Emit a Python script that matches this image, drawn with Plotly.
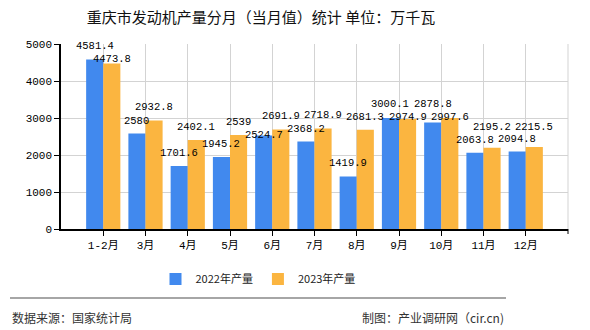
import plotly.graph_objects as go

categories = ["1-2月", "3月", "4月", "5月", "6月", "7月", "8月", "9月", "10月", "11月", "12月"]
values_2022 = [4581.4, 2580, 1701.6, 1945.2, 2524.7, 2368.2, 1419.9, 3000.1, 2878.8, 2063.8, 2094.8]
values_2023 = [4473.8, 2932.8, 2402.1, 2539, 2691.9, 2718.9, 2681.3, 2974.9, 2997.6, 2195.2, 2215.5]
series_names = ["2022年产量", "2023年产量"]
y_ticks = [0, 1000, 2000, 3000, 4000, 5000]

title_text = "重庆市发动机产量分月（当月值）统计 单位：万千瓦"
source_text = "数据来源：国家统计局"
maker_text = "制图：产业调研网（cir.cn)"

BLUE = "#4189EE"
ORANGE = "#FBB540"
MONO = "Liberation Mono, Noto Sans CJK SC, monospace"
CJK = "Noto Sans CJK SC, sans-serif"

W, H = 590, 330
ML, MR, MT, MB = 61, 22, 44, 101
PW, PH = W - ML - MR, H - MT - MB
XR = (-1, 11)
YMAX = 5000
BARGAP = 0.19
LABEL_SIZE = 10.5

series = [(series_names[0], values_2022, BLUE), (series_names[1], values_2023, ORANGE)]

fig = go.Figure()
for name, vals, col in series:
    fig.add_trace(go.Bar(x=categories, y=vals, name=name,
                         marker=dict(color=col, line=dict(width=0))))

# value labels on top of everything, with a simple overlap avoidance (vertical shift)
cat_px = PW / (XR[1] - XR[0])
bar_px = cat_px * (1 - BARGAP) / 2
placed = []
labels = []
for i, cat in enumerate(categories):
    for k, (name, vals, col) in enumerate(series):
        v = vals[i]
        txt = f"{v:g}"
        cx = ML + (i - XR[0]) * cat_px + (k - 0.5) * bar_px
        top = MT + (YMAX - v) / YMAX * PH
        w = len(txt) * LABEL_SIZE * 0.6
        h = 12
        x0, x1 = cx - w / 2, cx + w / 2
        y1 = top - 5
        def free(shift):
            a0, a1 = y1 - h + shift, y1 + shift
            for (b0x, b1x, b0y, b1y) in placed:
                if x0 < b1x and x1 > b0x and a0 < b1y and a1 > b0y:
                    return False
            return True
        shift = 0
        for d in range(0, 80):
            if free(d):
                shift = d
                break
            if free(-d):
                shift = -d
                break
        placed.append((x0, x1, y1 - h + shift, y1 + shift))
        labels.append((cat, v, txt, (k - 0.5) * bar_px, 5 - shift))

for cat, v, txt, xs, ys in labels:
    fig.add_annotation(x=cat, y=v, text=txt, showarrow=False,
                       xshift=xs, yshift=ys, yanchor="bottom",
                       font=dict(family=MONO, size=LABEL_SIZE, color="#000"))

fig.update_layout(
    width=W, height=H,
    margin=dict(l=ML, r=MR, t=MT, b=MB),
    paper_bgcolor="white", plot_bgcolor="white",
    barmode="group", bargap=BARGAP, bargroupgap=0,
    showlegend=True,
    legend=dict(orientation="h", x=(258 - ML) / PW, xref="paper", xanchor="center", y=-0.27, yanchor="middle",
                font=dict(family=CJK, size=11, color="#222"), itemwidth=30, traceorder="normal"),
    title=dict(text=title_text, x=261 / W, xref="container", xanchor="center", y=1 - 18 / H,
               yref="container", yanchor="middle",
               font=dict(family=CJK, size=15, color="#111")),
    font=dict(family=MONO, color="#000"),
)

fig.update_xaxes(
    type="category", range=list(XR),
    showgrid=True, gridcolor="#D3D3D3", gridwidth=1,
    showline=True, linecolor="#000", linewidth=1.5,
    ticks="outside", ticklen=5, tickcolor="#000",
    tickfont=dict(family=MONO, size=11, color="#000"),
    zeroline=False,
)
fig.update_yaxes(
    range=[0, YMAX], tickvals=y_ticks,
    showgrid=True, gridcolor="#D3D3D3", gridwidth=1,
    showline=True, linecolor="#000", linewidth=1.5,
    ticks="outside", ticklen=5, tickcolor="#000",
    tickfont=dict(family=MONO, size=11, color="#000"),
    zeroline=False,
)

# right frame line, end tick, separator line and footer
fig.add_shape(type="line", xref="paper", yref="paper",
              x0=1, x1=1, y0=0, y1=1, line=dict(color="#D3D3D3", width=1))
fig.add_shape(type="line", xref="paper", yref="paper",
              x0=1, x1=1, y0=0, y1=-5 / PH, line=dict(color="#000", width=1))
fig.add_shape(type="line", xref="paper", yref="paper",
              x0=-51 / PW, x1=445 / PW, y0=-69 / PH, y1=-69 / PH,
              line=dict(color="#888", width=1.5))
fig.add_annotation(text=source_text, xref="paper", yref="paper", x=-51 / PW, y=-88 / PH,
                   xanchor="left", yanchor="middle", showarrow=False,
                   font=dict(family=CJK, size=12, color="#333"))
fig.add_annotation(text=maker_text, xref="paper", yref="paper", x=445 / PW, y=-88 / PH,
                   xanchor="right", yanchor="middle", showarrow=False,
                   font=dict(family=CJK, size=12, color="#333"))

fig.write_html("out.html")
